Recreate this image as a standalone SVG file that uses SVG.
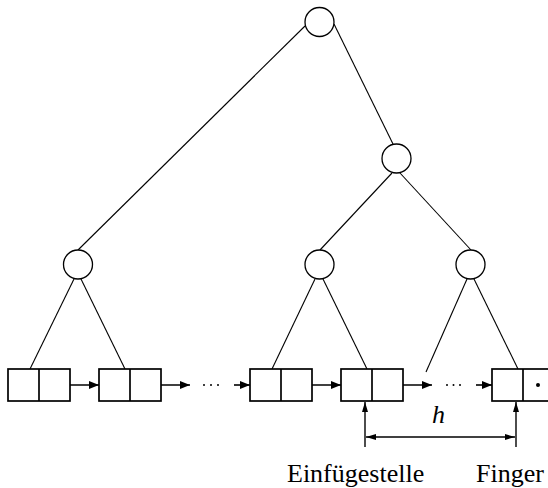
<svg xmlns="http://www.w3.org/2000/svg" width="548" height="488" viewBox="0 0 548 488">
  <style>
    .node { fill: #fff; stroke: #000; stroke-width: 1.3; }
    .edge { stroke: #000; stroke-width: 1.1; fill: none; }
    .box { fill: #fff; stroke: #000; stroke-width: 1.7; }
    .ptr { stroke: #000; stroke-width: 1.6; fill: none; }
    .dim { stroke: #000; stroke-width: 1.4; fill: none; }
    .dot { fill: #000; }
    .lbl { font-family: "Liberation Serif", "Times New Roman", serif; font-size: 26px; fill: #000; }
  </style>
  <defs>
    <marker id="head" viewBox="0 0 10 8" refX="10" refY="4" markerUnits="userSpaceOnUse" markerWidth="10" markerHeight="8" orient="auto">
      <path d="M0,0 L10,4 L0,8 Z" fill="#000"/>
    </marker>
    <marker id="dimHead" viewBox="0 0 10 6" refX="10" refY="3" markerUnits="userSpaceOnUse" markerWidth="10" markerHeight="6" orient="auto-start-reverse">
      <path d="M0,0 L10,3 L0,6 Z" fill="#000"/>
    </marker>
  </defs>

  <!-- tree edges and list pointers -->
  <g id="connectors">
    <line class="edge" x1="305" y1="26" x2="78" y2="250"/>
    <line class="edge" x1="334" y1="24" x2="393" y2="144"/>
    <line class="edge" x1="392" y1="173" x2="320" y2="250"/>
    <line class="edge" x1="400" y1="173" x2="471" y2="250"/>
    <line class="edge" x1="74" y1="279" x2="30" y2="369"/>
    <line class="edge" x1="81" y1="279" x2="125" y2="369"/>
    <line class="edge" x1="315" y1="279" x2="272" y2="369"/>
    <line class="edge" x1="323" y1="279" x2="367" y2="369"/>
    <line class="edge" x1="467" y1="279" x2="426" y2="372"/>
    <line class="edge" x1="474" y1="279" x2="518" y2="369"/>

    <line class="ptr" x1="53" y1="385" x2="99" y2="385" marker-end="url(#head)"/>
    <line class="ptr" x1="144" y1="385" x2="190" y2="385" marker-end="url(#head)"/>
    <line class="ptr" x1="234" y1="385" x2="250" y2="385" marker-end="url(#head)"/>
    <line class="ptr" x1="295" y1="385" x2="341" y2="385" marker-end="url(#head)"/>
    <line class="ptr" x1="386" y1="385" x2="432" y2="385" marker-end="url(#head)"/>
    <line class="ptr" x1="476" y1="385" x2="492" y2="385" marker-end="url(#head)"/>

    <circle class="dot" cx="204" cy="385" r="1"/>
    <circle class="dot" cx="211" cy="385" r="1"/>
    <circle class="dot" cx="218" cy="385" r="1"/>
    <circle class="dot" cx="447" cy="385" r="1"/>
    <circle class="dot" cx="453.5" cy="385" r="1"/>
    <circle class="dot" cx="460" cy="385" r="1"/>
  </g>

  <!-- inner nodes -->
  <g id="root"><circle class="node" cx="319.5" cy="22" r="14.5"/></g>
  <g id="inner-right"><circle class="node" cx="396.5" cy="158.5" r="14.5"/></g>
  <g id="inner-ll"><circle class="node" cx="78" cy="264.5" r="14.5"/></g>
  <g id="inner-lm"><circle class="node" cx="319.5" cy="264.5" r="14.5"/></g>
  <g id="inner-lr"><circle class="node" cx="470.5" cy="264.5" r="14.5"/></g>

  <!-- leaf list cells -->
  <g id="leaf1"><rect class="box" x="8" y="369" width="62" height="32"/><line class="box" x1="39" y1="369" x2="39" y2="401"/></g>
  <g id="leaf2"><rect class="box" x="99" y="369" width="62" height="32"/><line class="box" x1="130" y1="369" x2="130" y2="401"/></g>
  <g id="leaf3"><rect class="box" x="250" y="369" width="62" height="32"/><line class="box" x1="281" y1="369" x2="281" y2="401"/></g>
  <g id="leaf4"><rect class="box" x="341" y="369" width="62" height="32"/><line class="box" x1="372" y1="369" x2="372" y2="401"/></g>
  <g id="leaf5"><rect class="box" x="492" y="369" width="62" height="32"/><line class="box" x1="523" y1="369" x2="523" y2="401"/><circle class="dot" cx="538" cy="385" r="2"/></g>

  <!-- distance marker -->
  <g id="distance">
    <line class="dim" x1="365" y1="447" x2="365" y2="402" marker-end="url(#dimHead)"/>
    <line class="dim" x1="516" y1="447" x2="516" y2="402" marker-end="url(#dimHead)"/>
    <line class="dim" x1="366" y1="437" x2="515" y2="437" marker-start="url(#dimHead)" marker-end="url(#dimHead)"/>
    <text class="lbl" x="438.5" y="423" text-anchor="middle" font-style="italic">h</text>
  </g>

  <g id="labels">
    <text class="lbl" x="287" y="482">Einfügestelle</text>
    <text class="lbl" x="476" y="482">Finger</text>
  </g>
</svg>
